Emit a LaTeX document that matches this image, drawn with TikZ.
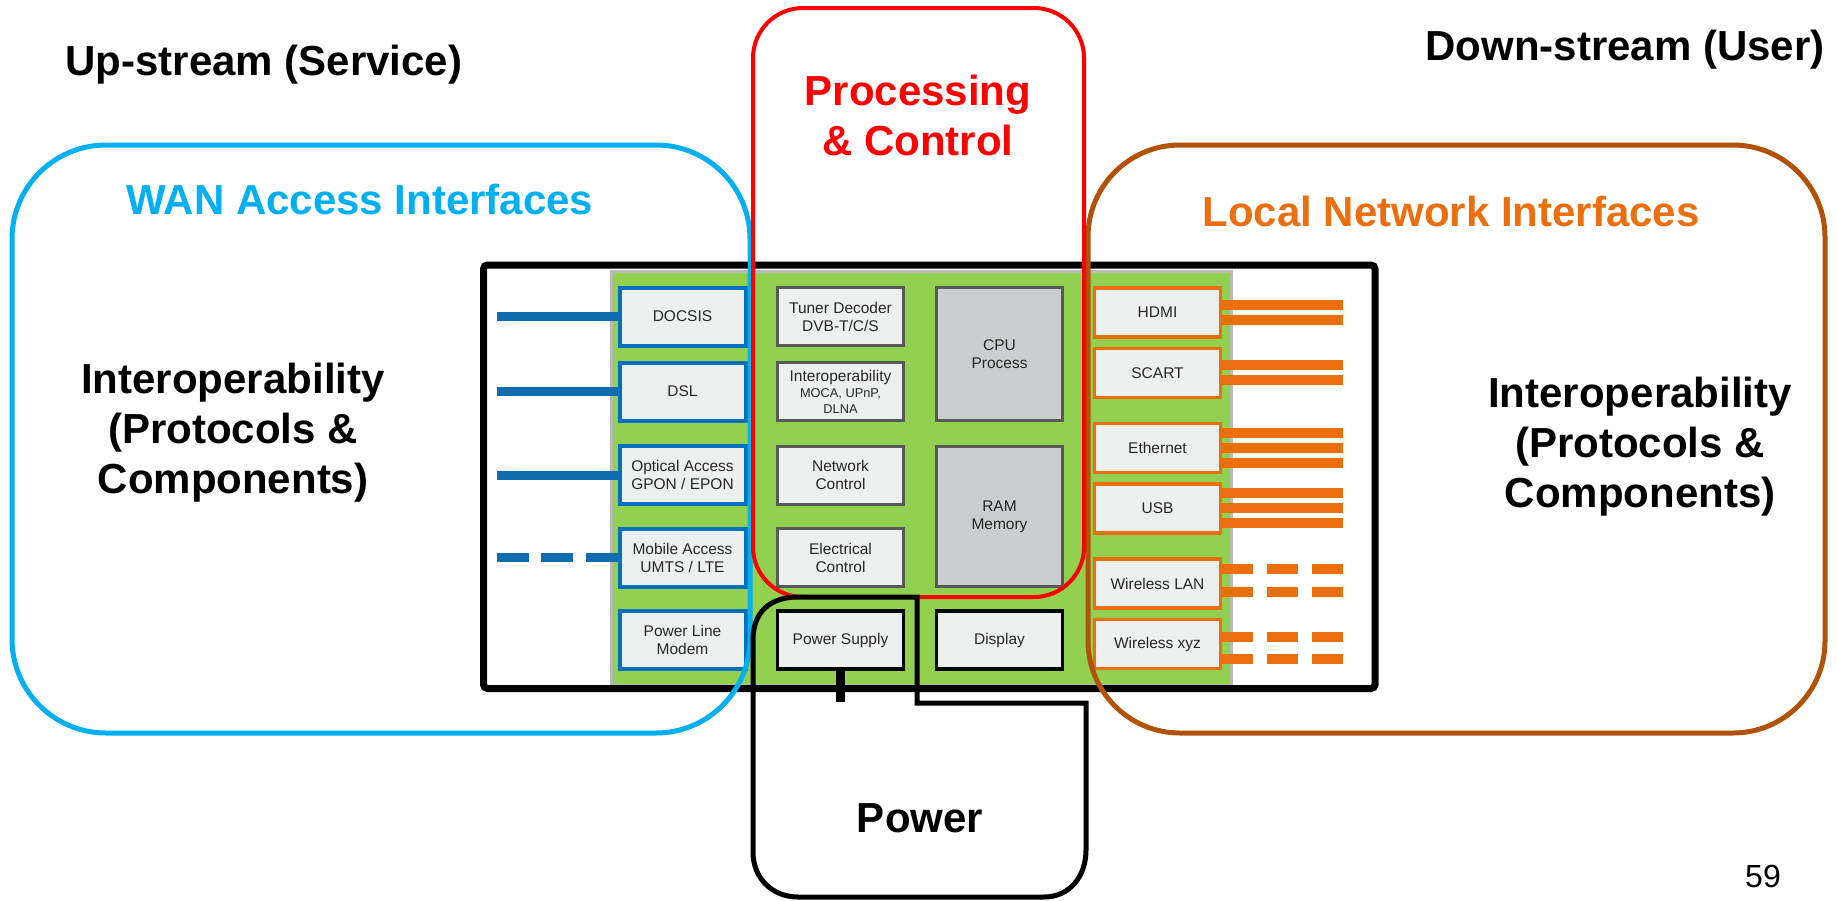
\documentclass[tikz,border=0pt]{standalone}
\usepackage{fontspec}
\setsansfont{Liberation Sans}
\usetikzlibrary{calc}

\definecolor{wancyan}{RGB}{0,176,240}
\definecolor{wanblue}{RGB}{0,112,192}
\definecolor{wancable}{RGB}{16,108,172}
\definecolor{lanbrown}{RGB}{178,82,8}
\definecolor{lanorange}{RGB}{235,110,15}
\definecolor{boardgreen}{RGB}{146,208,80}
\definecolor{boxfill}{RGB}{238,240,239}
\definecolor{memfill}{RGB}{203,206,207}
\definecolor{ctlgray}{RGB}{89,89,89}
\newcommand{\smallsz}{\fontsize{6.4}{8}\selectfont}

\begin{document}
\begin{tikzpicture}[x=0.5pt,y=-0.5pt,font=\sffamily,
hdr/.style={font=\sffamily\bfseries\fontsize{21}{25}\selectfont,inner sep=0pt},
ifc/.style={draw,fill=boxfill,text=black!85,align=center,inner sep=1pt,minimum width=63pt,minimum height=29pt,font=\sffamily\fontsize{7.75}{9}\selectfont},
wanbox/.style={ifc,draw=wanblue,line width=2pt},
ctlbox/.style={ifc,draw=ctlgray,line width=1.5pt},
membox/.style={ctlbox,fill=memfill},
pwrbox/.style={ifc,draw=black,line width=1.6pt},
lanbox/.style={ifc,draw=lanorange,line width=1.75pt,minimum height=24.5pt},
wancord/.style={wancable,line width=4.5pt},
lancord/.style={lanorange,line width=5pt},
zone/.style={draw,line width=2.5pt,rounded corners=47pt},
pwrline/.style={draw=black,line width=2.5pt}]
\useasboundingbox (0,0) rectangle (1837,900);

% device board
\fill[white] (483.5,265) rectangle (1375,688.5);
\draw[draw=gray!55,line width=1.5pt,fill=boardgreen] (611,271) rectangle (1231,685);
\draw[line width=3.5pt,rounded corners=2pt] (483.5,265) rectangle (1375,688.5);

% WAN side
\node[wanbox] (docsis) at (682.5,316.5) {DOCSIS};
\node[wanbox] (dsl) at (682.5,391.5) {DSL};
\node[wanbox] (optical) at (682.5,475) {Optical Access\\GPON / EPON};
\node[wanbox] (mobile) at (682.5,557.5) {Mobile Access\\UMTS / LTE};
\node[wanbox] (plc) at (682.5,640) {Power Line\\Modem};

% core
\node[ctlbox] (tuner) at (840.5,316.5) {Tuner Decoder\\DVB-T/C/S};
\node[ctlbox] (interop) at (840.5,391.5) {Interoperability\\[-1pt]{\smallsz MOCA, UPnP,}\\[-1pt]{\smallsz DLNA}};
\node[ctlbox] (netctl) at (840.5,475) {Network\\Control};
\node[ctlbox] (elecctl) at (840.5,557.5) {Electrical\\Control};
\node[pwrbox] (psu) at (840.5,640) {Power Supply};
\node[membox,minimum height=66.5pt] (cpu) at (999.5,354) {CPU\\Process};
\node[membox,minimum height=70pt] (ram) at (999.5,516.5) {RAM\\Memory};
\node[pwrbox] (disp) at (999.5,640) {Display};

% LAN side
\node[lanbox] (hdmi) at (1157.5,312.5) {HDMI};
\node[lanbox] (scart) at (1157.5,373) {SCART};
\node[lanbox] (eth) at (1157.5,448) {Ethernet};
\node[lanbox] (usb) at (1157.5,508.5) {USB};
\node[lanbox] (wlan) at (1157.5,583.5) {Wireless LAN};
\node[lanbox] (wxyz) at (1157.5,644) {Wireless xyz};

% cables
\coordinate (wanend) at (497,0);
\coordinate (lanend) at (1343,0);
\foreach \n in {docsis,dsl,optical}
  \draw[wancord] (\n.west) -- (\n.west -| wanend);
\draw[wancord,dash pattern=on 16pt off 6.25pt] (mobile.west) -- (mobile.west -| wanend);
\foreach \y in {305,320} \draw[lancord] (hdmi.east |- 0,\y) -- (lanend |- 0,\y);
\foreach \y in {365,380} \draw[lancord] (scart.east |- 0,\y) -- (lanend |- 0,\y);
\foreach \y in {433,448,463} \draw[lancord] (eth.east |- 0,\y) -- (lanend |- 0,\y);
\foreach \y in {493,508,523} \draw[lancord] (usb.east |- 0,\y) -- (lanend |- 0,\y);
\foreach \y in {569,592} \draw[lancord,dash pattern=on 15.5pt off 7pt] (wlan.east |- 0,\y) -- (lanend |- 0,\y);
\foreach \y in {637,659} \draw[lancord,dash pattern=on 15.5pt off 7pt] (wxyz.east |- 0,\y) -- (lanend |- 0,\y);

% zones
\node[zone,draw=wancyan,minimum width=369pt,minimum height=294pt] (wan) at (381,439) {};
\node[zone,draw=lanbrown,rounded corners=46pt,minimum width=368.5pt,minimum height=294pt] (lan) at (1456.5,439) {};
\node[zone,draw=red,line width=2pt,rounded corners=25pt,minimum width=165.5pt,minimum height=294.5pt] (core) at (918.5,302.5) {};

% power
\draw[pwrline] (917,703) -- (917,597) -- (798,597) .. controls (770,597) and (753,612) .. (753,640)
  -- (753,852) .. controls (753,878) and (772,897) .. (798,897) -- (1044,897)
  .. controls (1070,897) and (1086,876) .. (1086,850) -- (1086,703) -- cycle;
\coordinate (plug) at (840.5,702);
\draw[line width=4.5pt] (psu.south) -- (plug);

% labels
\node[hdr,anchor=base] (upst) at (264,75) {Up-stream (Service)};
\node[hdr,anchor=base] (downst) at (1625,60) {Down-stream (User)};
\node[hdr,red,align=center] (proc) at (918,115) {Processing\\\& Control};
\node[hdr,wancyan,anchor=base] (wantxt) at (360,214) {WAN Access Interfaces};
\node[hdr,lanorange,anchor=base] (lantxt) at (1451,226) {Local Network Interfaces};
\node[hdr,align=center] (iopl) at (233,433) {Interoperability\\(Protocols \&\\Components)};
\node[hdr,align=center] (iopr) at (1640,447) {Interoperability\\(Protocols \&\\Components)};
\node[hdr,anchor=base] (pwrtxt) at (920,832) {Power};
\node[font=\sffamily\fontsize{16}{19}\selectfont,anchor=base] (pageno) at (1763,887) {59};
\end{tikzpicture}
\end{document}
